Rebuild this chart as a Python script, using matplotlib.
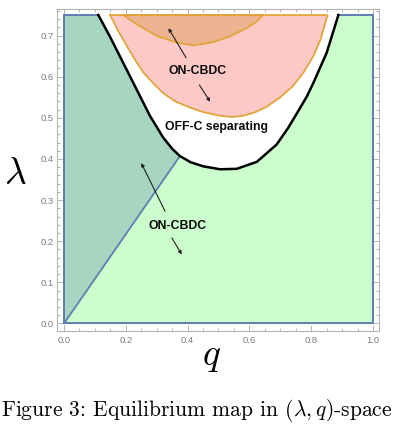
import matplotlib
matplotlib.use("Agg")
import matplotlib.pyplot as plt
from matplotlib.ticker import MultipleLocator

# ---- data ----
# black boundary (OFF-C separating region lower edge)
black_q = [0.111, 0.149, 0.192, 0.235, 0.278, 0.321, 0.350, 0.375, 0.410, 0.451, 0.505,
           0.559, 0.624, 0.688, 0.725, 0.753, 0.786, 0.807, 0.850, 0.888]
black_l = [0.750, 0.697, 0.633, 0.569, 0.505, 0.452, 0.425, 0.407, 0.392, 0.382, 0.375,
           0.376, 0.393, 0.435, 0.475, 0.510, 0.552, 0.585, 0.658, 0.750]
# blue diagonal boundary: from origin to the black curve
diag_q = [0.0, 0.375]
diag_l = [0.0, 0.407]
# outer orange curve (pink region)
outer_q = [0.149, 0.175, 0.203, 0.230, 0.257, 0.290, 0.321, 0.360, 0.408, 0.450, 0.505,
           0.545, 0.580, 0.620, 0.656, 0.700, 0.742, 0.775, 0.807, 0.830, 0.853]
outer_l = [0.750, 0.712, 0.675, 0.641, 0.610, 0.583, 0.560, 0.540, 0.525, 0.514, 0.505,
           0.502, 0.505, 0.514, 0.527, 0.550, 0.578, 0.610, 0.650, 0.690, 0.750]
# inner orange curve (dark orange region)
inner_q = [0.192, 0.220, 0.246, 0.300, 0.365, 0.420, 0.483, 0.537, 0.591, 0.620, 0.645]
inner_l = [0.750, 0.735, 0.723, 0.699, 0.683, 0.676, 0.684, 0.698, 0.718, 0.732, 0.750]
lam_top = 0.75

labels = ["ON-CBDC", "OFF-C separating", "ON-CBDC"]
label_pos = [(0.432, 0.614), (0.494, 0.477), (0.366, 0.238)]
arrows = [((0.395, 0.646), (0.338, 0.718)),
          ((0.438, 0.580), (0.473, 0.539)),
          ((0.327, 0.273), (0.250, 0.390)),
          ((0.349, 0.208), (0.381, 0.168))]

# colours
c_dark = '#a6d6c2'
c_light = '#ccfdcc'
c_pink = '#fdc9c7'
c_inner = '#edb28f'
c_orange = '#e2a43c'
c_blue = '#5d7fb2'
c_frame = '#b4b4b4'
c_tick = '#7a7a7a'

plt.rcParams['mathtext.fontset'] = 'cm'

fig = plt.figure(figsize=(4.08, 4.28), dpi=100)
ax = fig.add_axes([57/408, 1-330.5/428, 321.5/408, 321.5/428])

# split black curve at intersection with diagonal
k = black_q.index(diag_q[1])
left_q, left_l = black_q[:k+1], black_l[:k+1]
right_q, right_l = black_q[k:], black_l[k:]

# dark green region
poly_q = [0.0, 0.0] + left_q + [0.0]
poly_l = [0.0, lam_top] + left_l + [0.0]
ax.fill(poly_q, poly_l, color=c_dark, lw=0, zorder=1)
# light green region
poly_q = [0.0] + right_q + [1.0, 1.0, 0.0]
poly_l = [0.0] + right_l + [lam_top, 0.0, 0.0]
ax.fill(poly_q, poly_l, color=c_light, lw=0, zorder=1)

# pink and inner regions
ax.fill(outer_q, outer_l, color=c_pink, lw=0, zorder=1)
ax.plot(outer_q + [outer_q[0]], outer_l + [outer_l[0]], color=c_orange, lw=1.3, zorder=3,
        solid_joinstyle='round')
ax.fill(inner_q, inner_l, color=c_inner, lw=0, zorder=2)
ax.plot(inner_q + [inner_q[0]], inner_l + [inner_l[0]], color=c_orange, lw=1.3, zorder=3,
        solid_joinstyle='round')

# blue outlines
ax.plot([black_q[0], 0, 0, 1, 1, black_q[-1]], [lam_top, lam_top, 0, 0, lam_top, lam_top],
        color=c_blue, lw=1.4, zorder=3, solid_joinstyle='miter')
ax.plot(diag_q, diag_l, color=c_blue, lw=1.3, zorder=3)
# black curve
ax.plot(black_q, black_l, color='black', lw=1.8, zorder=4, solid_joinstyle='round')

# texts and arrows
for t, (x, y) in zip(labels, label_pos):
    ax.text(x, y, t, ha='center', va='center', fontsize=8.8, fontweight='bold',
            family='Liberation Sans', color='#0a0a0a', zorder=5)
for (s, e) in arrows:
    ax.annotate('', xy=e, xytext=s,
                arrowprops=dict(arrowstyle='-|>', lw=0.8, color='#222222',
                                mutation_scale=5, shrinkA=0, shrinkB=0), zorder=5)

# axes styling
ax.set_xlim(-7/309, 1 + 5.5/309)
ax.set_ylim(-7/411.3, 0.75 + 6/411.3)
ax.xaxis.set_major_locator(MultipleLocator(0.2))
ax.xaxis.set_minor_locator(MultipleLocator(0.05))
ax.yaxis.set_major_locator(MultipleLocator(0.1))
ax.yaxis.set_minor_locator(MultipleLocator(0.02))
ax.xaxis.set_major_formatter(plt.FuncFormatter(lambda v, p: f"{v:.1f}"))
ax.yaxis.set_major_formatter(plt.FuncFormatter(lambda v, p: f"{v:.1f}"))
ax.tick_params(which='both', direction='in', top=True, right=True, color=c_frame,
               labelcolor=c_tick, labelsize=6.8, width=0.7)
ax.tick_params(which='major', length=4)
ax.tick_params(which='minor', length=2.2)
ax.tick_params(axis='x', pad=4)
ax.tick_params(axis='y', pad=2)
for lab in ax.get_xticklabels() + ax.get_yticklabels():
    lab.set_family('Liberation Sans')
for sp in ax.spines.values():
    sp.set_color(c_frame)
    sp.set_linewidth(0.8)

fig.text(15/408, 1-174/428, r'$\lambda$', fontsize=27, ha='center', va='center')
fig.text(211/408, 1-356/428, r'$q$', fontsize=27, ha='center', va='center')
fig.text(197/408, 1-410/428, r'Figure 3: Equilibrium map in $(\lambda, q)$-space',
         family='cmr10', fontsize=15.5, ha='center', va='center')

fig.savefig('out.png', dpi=100)
